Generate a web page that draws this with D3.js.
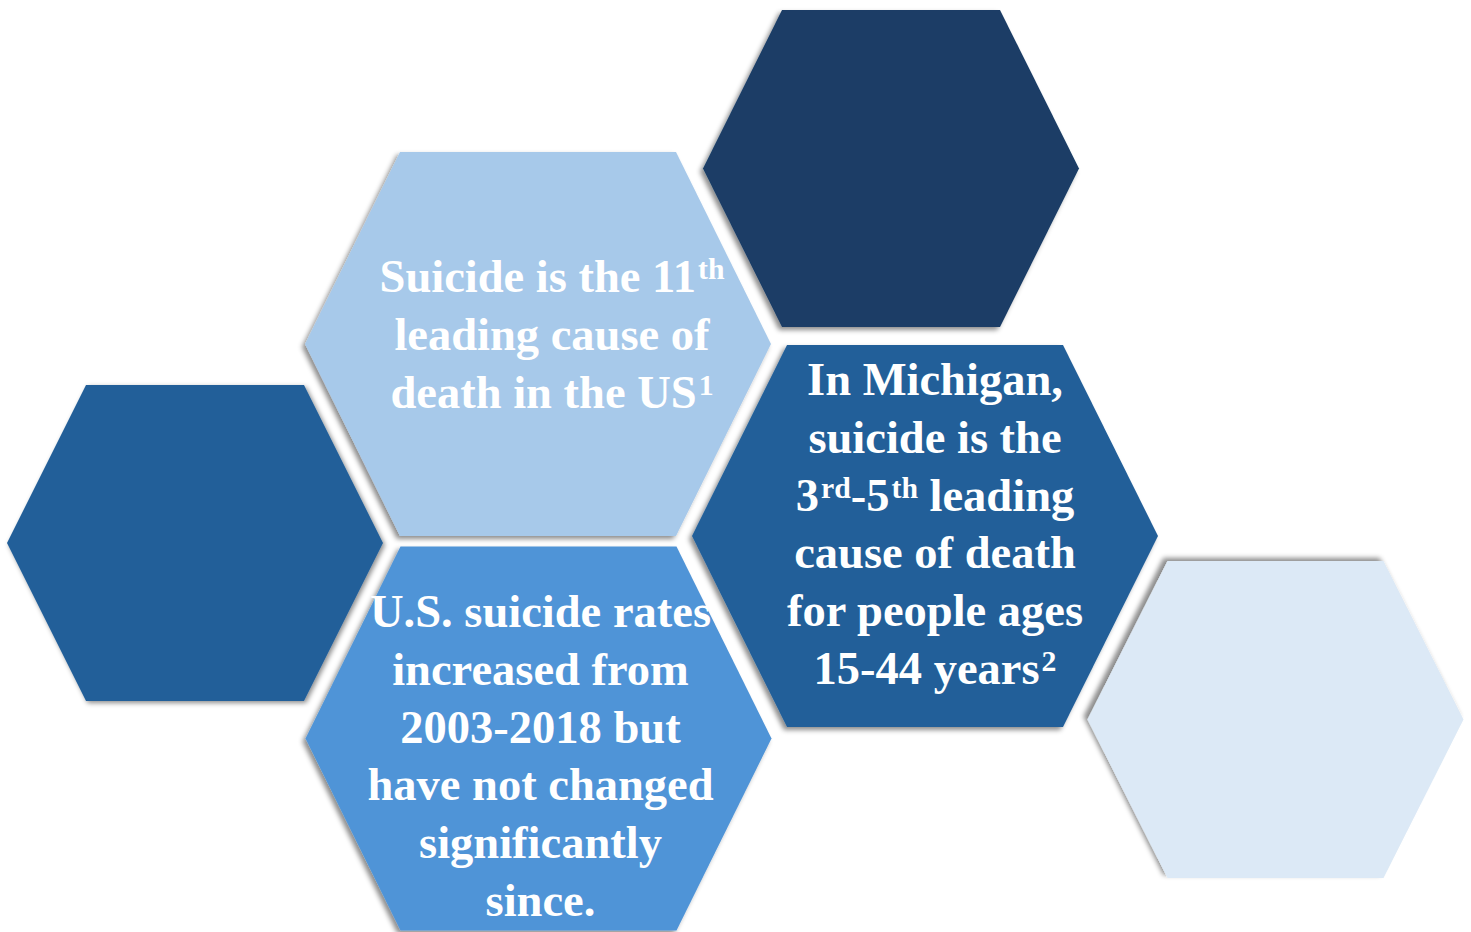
<!DOCTYPE html>
<html>
<head>
  <title>Suicide facts hexagons</title>
  <script src="https://d3js.org/d3.v7.min.js"></script>
  <style>
    body { margin: 0; background: #ffffff; }
    svg { display: block; }
    .hex-text { font-family: "Liberation Serif", "DejaVu Serif", serif; font-weight: bold; fill: #ffffff; }
  </style>
</head>
<body>
  <svg id="chart"></svg>
  <script>
    const width = 1471, height = 932;

    // text in each hexagon, {..} marks a superscript
    const textSuicide11 = ["Suicide is the 11{th}", "leading cause of", "death in the US{1}"];
    const textMichigan = ["In Michigan,", "suicide is the", "3{rd}-5{th} leading", "cause of death", "for people ages", "15-44 years{2}"];
    const textRates = ["U.S. suicide rates", "increased from", "2003-2018 but", "have not changed", "significantly", "since."];

    const hexNames = ["navyTop", "blueLeft", "lightTop", "mediumBottom", "blueRight", "paleRight"];
    const hexColors = ["#1a3d66", "#215f99", "#a7c9ea", "#4f94d7", "#215f99", "#dce9f6"];
    const hexTexts = [[], [], textSuicide11, textRates, textMichigan, []];

    // layout (px): centre, half width, half height, half top edge
    const layout = {
      navyTop:      { cx: 891, cy: 168.5, hw: 188, hh: 158.5, ht: 109, sx: -3, sy: 3 },
      blueLeft:     { cx: 195, cy: 543, hw: 188, hh: 158, ht: 109, sx: 2, sy: 2 },
      lightTop:     { cx: 538, cy: 344, hw: 233, hh: 192, ht: 138, sx: -3, sy: 3 },
      mediumBottom: { cx: 538.5, cy: 738.5, hw: 233, hh: 192, ht: 138, sx: -3, sy: 3 },
      blueRight:    { cx: 925, cy: 536, hw: 233, hh: 191, ht: 138, sx: -3, sy: 3 },
      paleRight:    { cx: 1275.5, cy: 719.5, hw: 188, hh: 158.5, ht: 108, sx: -4, sy: -3 }
    };
    const textPos = {
      lightTop:     { x: 552, y: 292 },
      mediumBottom: { x: 540.5, y: 627 },
      blueRight:    { x: 935, y: 395 }
    };
    const fontSize = 46.5, lineGap = 57.8;

    const svg = d3.select("#chart").attr("width", width).attr("height", height);

    const defs = svg.append("defs");
    hexNames.forEach(n => {
      const l = layout[n];
      defs.append("filter").attr("id", "sh-" + n)
        .attr("x", "-10%").attr("y", "-10%").attr("width", "120%").attr("height", "120%")
        .append("feDropShadow")
        .attr("dx", l.sx).attr("dy", l.sy).attr("stdDeviation", 2.5)
        .attr("flood-color", "#000").attr("flood-opacity", 0.45);
    });

    const hexLine = d3.line();
    function hexPoints(l) {
      return [
        [l.cx - l.ht, l.cy - l.hh], [l.cx + l.ht, l.cy - l.hh], [l.cx + l.hw, l.cy],
        [l.cx + l.ht, l.cy + l.hh], [l.cx - l.ht, l.cy + l.hh], [l.cx - l.hw, l.cy]
      ];
    }

    const hexData = hexNames.map((n, i) => ({ name: n, color: hexColors[i], lines: hexTexts[i] }));

    svg.append("g").selectAll("path")
      .data(hexData)
      .join("path")
      .attr("d", d => hexLine(hexPoints(layout[d.name])) + "Z")
      .attr("fill", d => d.color)
      .attr("filter", d => `url(#sh-${d.name})`);

    const supRise = 0.28;
    function addLine(textSel, str) {
      const parts = str.split(/(\{[^}]*\})/).filter(s => s.length);
      let raised = false;
      parts.forEach(p => {
        if (p.startsWith("{")) {
          textSel.append("tspan").attr("font-size", fontSize * 0.64)
            .attr("dx", 2)
            .attr("dy", -fontSize * supRise).text(p.slice(1, -1));
          raised = true;
        } else {
          textSel.append("tspan").attr("dy", raised ? fontSize * supRise : 0).text(p);
          raised = false;
        }
      });
    }

    const labels = svg.append("g");
    hexData.filter(d => d.lines.length).forEach(d => {
      const p = textPos[d.name];
      d.lines.forEach((line, i) => {
        const t = labels.append("text").attr("class", "hex-text")
          .attr("x", p.x).attr("y", p.y + i * lineGap)
          .attr("text-anchor", "middle")
          .attr("font-size", fontSize);
        addLine(t, line);
      });
    });
  </script>
</body>
</html>
